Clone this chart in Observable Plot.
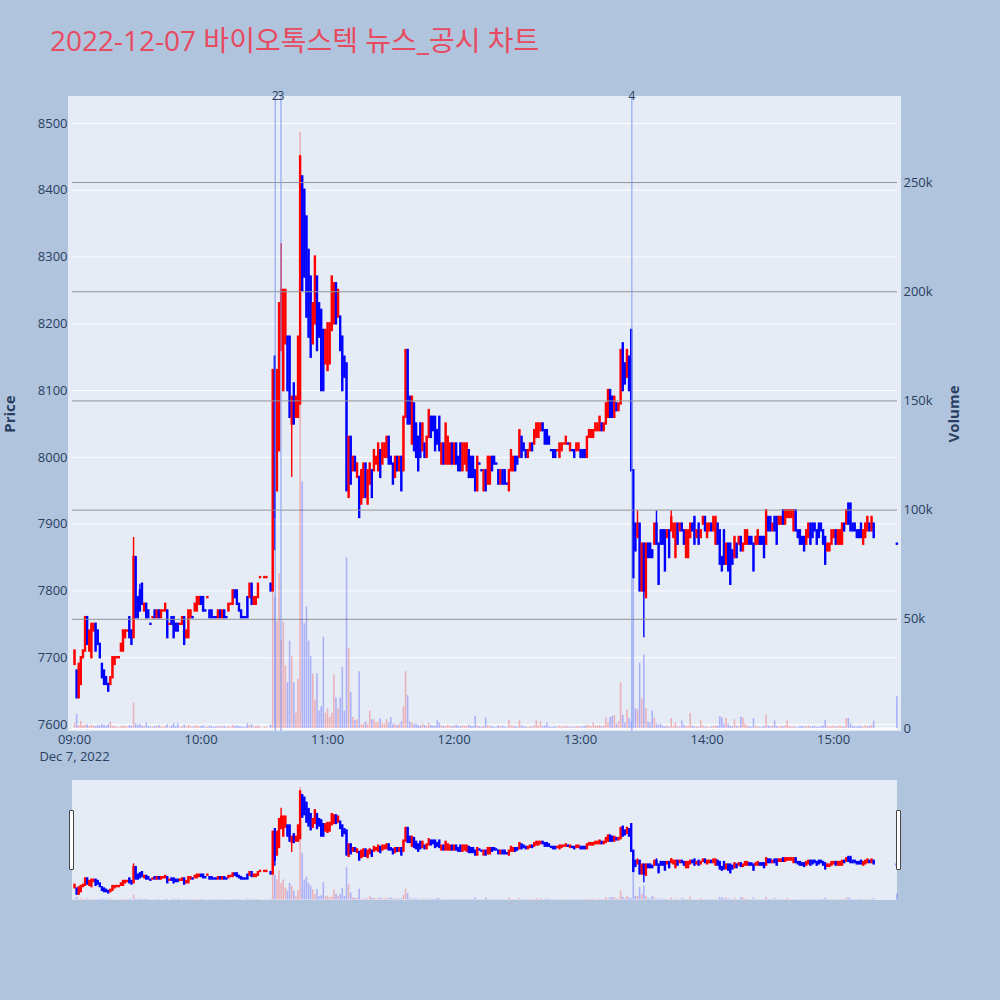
<!DOCTYPE html>
<html>
<head>
<meta charset="utf-8">
<script src="https://cdn.jsdelivr.net/npm/d3@7"></script>
<script src="https://cdn.jsdelivr.net/npm/@observablehq/plot@0.6"></script>
<style>
  html, body { margin: 0; padding: 0; background: #b0c4de; }
  #root { position: relative; width: 1000px; height: 1000px; background: #b0c4de; overflow: hidden; font-family: "Open Sans", "Noto Sans CJK KR", sans-serif; }
  .layer { position: absolute; left: 0; }
  .grab { position: absolute; top: 810px; width: 3px; height: 58px; background: #fff; border: 1px solid #444; border-radius: 1px; }
</style>
</head>
<body>
<div id="root">
  <svg class="layer" style="top:0" width="1000" height="90">
    <text x="50" y="51" font-family="'Open Sans','Noto Sans CJK KR',sans-serif" font-size="28" fill="#e84a5f">2022-12-07 바이오톡스텍 뉴스_공시 차트</text>
  </svg>
  <div style="position:absolute;left:68px;top:96px;width:833px;height:635px;background:#e5ecf6"></div>
  <div id="mainPrice" class="layer" style="top:0"></div>
  <div id="mainVol" class="layer" style="top:0"></div>
  <div style="position:absolute;left:72px;top:780px;width:825px;height:120px;background:#e5ecf6"></div>
  <div id="sliderPrice" class="layer" style="top:780px"></div>
  <div id="sliderVol" class="layer" style="top:780px"></div>
  <div class="grab" style="left:68.5px"></div>
  <div class="grab" style="left:895.5px"></div>
</div>
<script>
// ---------------- data ----------------
const tradeDate = [2022, 11, 7];   // Dec 7, 2022 (month is 0-based)
const sessionStartHour = 9;

// one candle per minute from 09:00 (index = minutes after 09:00), null = no trade
const opens = [
  7690,7680,7640,7660,7700,7710,7760,7710,7700,7740,
  7750,7740,7720,7690,7680,7670,7660,7660,7670,7690,
  7700,7700,7710,7710,7730,7740,7760,7740,7730,7850,
  7790,7800,7810,7770,7780,7770,7750,7760,7770,7760,
  7770,7760,7770,7770,7770,7750,7760,7760,7750,7750,
  7750,7750,7760,7730,7730,7760,7760,7770,7770,7780,
  7790,7790,7770,7790,7770,7770,7760,7760,7760,7770,
  7760,7770,7760,7770,7780,7780,7800,7800,7780,7770,
  7760,7760,7790,7790,7810,7780,7780,7790,7820,null,
  7820,7820,null,7810,7800,8150,7950,8010,8160,8100,
  8170,8180,8180,8050,8110,8060,8060,8080,8420,8400,
  8360,8310,8270,8170,8200,8270,8230,8220,8190,8140,
  8130,8140,8190,8200,8260,8210,8210,8180,8150,8140,
  7940,8030,7980,8000,7970,7970,7930,7940,7990,7930,
  7960,7980,7980,7990,7980,8010,7990,8000,8000,8030,
  8000,7990,7970,8000,7980,8000,7980,8060,8160,8090,
  8020,8080,8050,8030,8050,8010,8020,8000,8030,8060,
  8060,8060,8040,8060,7990,8020,7990,7990,7990,8020,
  7990,8020,8000,8020,7980,7990,7980,8010,8000,8000,
  7980,7950,7990,7980,7950,7980,7960,7960,8000,8000,
  7990,7980,7960,7980,7980,7960,7950,7980,7980,8000,
  8000,8000,8030,8020,8010,8000,8010,8020,8020,8030,
  8030,8040,8050,8040,8040,8030,8010,8010,8010,8010,
  8000,8010,8020,8020,8020,8010,8010,8010,8010,8010,
  8010,8010,8010,8000,8030,8030,8030,8040,8040,8040,
  8050,8040,8050,8060,8100,8090,8060,8080,8070,8080,
  8170,8140,8120,8150,8190,7980,7900,7880,7900,7800,
  7870,7790,7870,7870,7860,7870,7900,7870,7890,7890,
  7890,7880,7890,7890,7880,7850,7900,7890,7900,7890,
  7850,7850,7880,7900,7910,7880,7900,7880,7900,7910,
  7880,7890,7900,7890,7870,7900,7890,7850,7890,7840,
  7870,7870,7860,7850,7870,7870,7880,7860,7870,7870,
  7880,7880,7870,7870,7870,7880,7880,7880,7870,7910,
  7910,7890,7910,7910,7900,7900,7920,7900,7910,7910,
  7910,7890,7920,7890,7890,7880,7880,7870,7880,7900,
  7900,7900,7890,7900,7900,7890,7880,7860,7860,7870,
  7880,7890,7870,7870,7870,7900,7900,7930,7930,7900,
  7900,7890,7890,7900,7870,7880,7890,7900,7890,7900
];
const closes = [
  7710,7640,7690,7700,7710,7760,7720,7740,7750,7750,
  7710,7720,7700,7670,7660,7660,7650,7670,7700,7700,
  7700,7700,7720,7740,7740,7740,7730,7720,7850,7760,
  7760,7770,7780,7780,7760,7760,7750,7760,7760,7770,
  7760,7770,7770,7780,7730,7750,7750,7730,7740,7740,
  7750,7760,7720,7740,7770,7770,7760,7780,7790,7790,
  7780,7770,7770,7790,7760,7760,7760,7760,7770,7760,
  7770,7760,7760,7780,7780,7800,7790,7780,7770,7760,
  7760,7760,7760,7810,7780,7790,7790,7810,7820,null,
  7820,7820,null,7800,8130,7910,8130,8230,8250,8250,
  8250,8100,8060,8090,8050,8090,8180,8450,8250,8270,
  8210,8180,8150,8230,8300,8160,8180,8100,8100,8190,
  8200,8200,8270,8260,8200,8250,8160,8100,8120,7950,
  8030,7960,8000,7980,7990,7910,7980,7990,7940,7980,
  7990,7940,8010,8000,8020,7970,8020,8020,8030,7990,
  7990,7960,8000,7980,8000,7950,8060,8160,8050,8050,
  8090,8010,8000,7980,8000,8050,8000,8030,8070,8030,
  8040,8010,8020,8010,8020,7990,8050,8030,8020,7990,
  8020,7990,7980,7980,8020,8020,8020,7970,7970,7970,
  7950,8000,7990,7980,7980,7950,8000,8000,7980,7990,
  7990,7960,7980,7960,7960,7960,7980,8010,8000,7980,
  7990,8040,8000,8010,8000,8010,8020,8010,8040,8050,
  8050,8050,8040,8020,8020,8020,8010,8000,8000,8010,
  8020,8020,8020,8030,8020,8020,8010,8000,8020,8020,
  8000,8000,8000,8030,8040,8040,8040,8050,8050,8060,
  8040,8050,8080,8100,8060,8060,8090,8070,8080,8160,
  8100,8110,8160,8100,7980,7820,7860,7900,7800,7870,
  7800,7870,7850,7850,7850,7900,7870,7810,7870,7870,
  7830,7890,7850,7910,7900,7900,7870,7900,7890,7870,
  7890,7890,7900,7890,7870,7890,7870,7890,7910,7890,
  7900,7900,7890,7910,7910,7870,7840,7830,7840,7870,
  7830,7810,7840,7880,7850,7880,7860,7870,7890,7890,
  7870,7870,7830,7880,7890,7870,7870,7850,7920,7890,
  7890,7900,7890,7870,7910,7910,7900,7920,7920,7920,
  7920,7920,7890,7880,7870,7870,7860,7890,7900,7870,
  7880,7890,7870,7880,7890,7870,7840,7870,7870,7890,
  7890,7870,7890,7890,7900,7890,7920,7900,7890,7890,
  7890,7880,7880,7880,7890,7900,7910,7890,7910,7880
];
// traded volume per minute, thousands of shares
const volumesK = [
  2.5,6.4,1.5,3.2,1.2,1.5,1.8,1.0,1.5,1.2,
  0.8,1.5,1.2,2.0,1.5,1.0,1.8,2.9,0.8,1.0,
  0.5,0.4,0.8,1.2,0.9,0.6,1.4,1.0,11.6,2.2,
  1.5,2.0,1.2,0.8,2.5,1.0,0.6,0.5,1.0,0.8,
  1.5,0.6,0.5,0.9,1.8,0.4,1.2,2.2,0.8,2.2,
  0.5,0.7,1.6,0.6,1.4,0.9,0.5,1.0,1.2,0.8,
  0.9,1.3,0.4,0.6,1.0,0.8,0.5,0.7,0.9,0.6,
  0.8,1.0,0.4,0.9,0.5,1.5,1.0,1.2,0.8,0.7,
  0.6,0.5,2.2,1.4,1.8,0.6,0.9,1.2,0.6,null,
  0.5,0.6,null,1.5,130,60,49,71,40,48.7,
  28.8,21,40,33,21,7,22.7,273,113,48,
  55.7,40,33,25,13,25,8,10,41.8,7,
  9,5,7,24.4,14,9,14,28,8,78,
  36.6,16.5,5,3.5,4,26,1.8,2,3,2,
  8,4,4,2.5,3,4.5,2.2,2,4,2.5,
  5,2,2,1.5,2,3,10,26,15,3,
  2.5,2,2,1.5,1.2,2,1.5,1.0,2.5,1.5,
  1.2,1.0,3.5,2.5,1.2,1.0,0.8,1.5,1.0,0.8,
  1.2,1.5,1.0,0.8,1.2,1.0,0.9,1.5,1.0,0.8,
  5.5,1.2,0.8,0.6,1.0,4.7,1.2,1.0,0.8,0.6,
  0.5,1.2,0.8,1.0,0.6,0.4,3.8,1.2,1.0,0.8,
  0.6,3.5,1.2,0.8,0.6,0.5,0.8,0.6,1.2,3.5,
  1.0,3.0,0.8,1.2,2.5,0.8,0.5,0.6,0.8,0.5,
  1.2,0.8,0.6,1.0,0.6,0.8,0.5,0.6,1.0,0.8,
  0.6,0.8,1.0,1.5,1.2,0.8,2.5,1.2,1.0,1.5,
  0.8,1.2,5.0,2.5,5.0,5.5,6.0,2.0,3.0,21,
  6.0,2.5,8.5,4.6,3.0,108,9,8.5,30,13.5,
  33.6,9,3.0,2.5,8,4.6,2.0,1.5,2.0,1.0,
  0.8,1.2,0.6,4.6,0.8,2.5,0.6,0.8,3.5,1.5,
  0.8,1.0,6.9,1.0,0.6,0.8,0.5,3.5,1.0,0.6,
  0.8,0.5,0.6,0.8,1.2,1.0,5.3,4.8,2.0,4.6,
  2.0,1.0,0.8,4.0,1.0,0.8,5.3,4.8,2.0,1.0,
  0.8,0.6,4.6,1.0,0.8,0.6,0.5,1.0,6.0,1.2,
  0.8,1.0,3.5,0.8,0.6,1.0,0.8,1.2,3.5,1.0,
  0.6,0.8,0.5,0.4,0.8,1.0,0.6,0.8,1.2,0.6,
  0.8,1.0,0.6,0.5,0.8,1.2,3.8,1.0,0.6,0.8,
  1.0,0.6,0.8,1.2,0.8,0.6,4.6,4.6,2.0,1.0,
  0.8,0.6,1.0,0.8,0.6,1.2,0.8,1.0,1.5,3.4
];
// wick extremes beyond the candle body: [minute, price]
const wickHighs = [[28,7880],[31,7810],[98,8320],[260,8170],[267,7920],[276,7920],[283,7920]];
const wickLows  = [[95,7860],[103,7970],[270,7730]];
// closing single-price auction at 15:30
const closingAuction = {minute: 390, price: 7870, volumeK: 14.5};
// news / disclosure markers
const newsMarks = [
  {time: "10:35:10", label: "2"},
  {time: "10:37:55", label: "3"},
  {time: "13:24:20", label: "4"}
];
const priceTicks = [7600,7700,7800,7900,8000,8100,8200,8300,8400,8500];
const volumeTicks = [0,50000,100000,150000,200000,250000];
const timeTicks = ["09:00","10:00","11:00","12:00","13:00","14:00","15:00"];
const dateLabel = "Dec 7, 2022";

// ---------------- build ----------------
const minuteDate = m => new Date(Date.UTC(tradeDate[0], tradeDate[1], tradeDate[2], sessionStartHour, 0) + m * 60000);
const hmsDate = s => { const [h, mi, se] = s.split(":").map(Number); return new Date(Date.UTC(tradeDate[0], tradeDate[1], tradeDate[2], h, mi, se || 0)); };

const hiMap = new Map(wickHighs), loMap = new Map(wickLows);
const rows = [];
opens.forEach((o, m) => { if (o != null) rows.push({m, o, c: closes[m], v: volumesK[m]}); });
rows.push({m: closingAuction.minute, o: closingAuction.price, c: closingAuction.price, v: closingAuction.volumeK});

let inc = true, cPrev = null;
const candles = rows.map(r => {
  if (r.c === r.o) { if (cPrev !== null && r.c !== cPrev) inc = r.c > cPrev; }
  else inc = r.c > r.o;
  cPrev = r.c;
  return {
    time: minuteDate(r.m), open: r.o, close: r.c,
    high: Math.max(r.o, r.c, hiMap.get(r.m) ?? -Infinity),
    low: Math.min(r.o, r.c, loMap.get(r.m) ?? Infinity),
    volume: r.v * 1000,
    color: inc ? "#ff0000" : "#0000ff"
  };
});
const news = newsMarks.map(d => ({t: hmsDate(d.time), label: d.label}));

const xDomain = [minuteDate(-0.95), minuteDate(390.3)];
const priceDomain = [7589.5, 8540.4];
const volDomain = [-1370, 289400];
const ink = "#2a3f5f";
const baseStyle = {background: "transparent", fontFamily: "'Open Sans', sans-serif", fontSize: "13px", color: ink, overflow: "visible"};
const fmtTime = d => String(d.getUTCHours()).padStart(2, "0") + ":" + String(d.getUTCMinutes()).padStart(2, "0");

const candleMarks = (wickW, bodyW) => [
  Plot.ruleX(candles, {x: "time", y1: "low", y2: "high", stroke: "color", strokeWidth: wickW}),
  Plot.ruleX(candles, {x: "time", y1: "open", y2: "close", stroke: "color", strokeWidth: bodyW, strokeLinecap: "square"})
];
const volMark = () => Plot.ruleX(candles, {x: "time", y1: 0, y2: "volume", stroke: "color", strokeOpacity: 0.25, strokeWidth: 1.6});

const mainPrice = Plot.plot({
  width: 1000, height: 770,
  marginLeft: 72, marginRight: 103, marginTop: 96, marginBottom: 39,
  style: baseStyle,
  x: {type: "utc", domain: xDomain},
  y: {domain: priceDomain},
  color: {type: "identity"},
  marks: [
    Plot.gridY(priceTicks, {stroke: "#ffffff", strokeOpacity: 1, strokeWidth: 1}),
    Plot.axisY(priceTicks, {anchor: "left", tickSize: 0, tickPadding: 5, label: null, tickFormat: d => String(d), fontSize: 13}),
    Plot.axisX(timeTicks.map(hmsDate), {tickSize: 0, tickPadding: 3, label: null, fontSize: 13, tickFormat: fmtTime}),
    Plot.text([hmsDate(timeTicks[0])], {x: d => d, text: () => dateLabel, frameAnchor: "bottom", lineAnchor: "top", dy: 20, fontSize: 13, fill: ink}),
    ...candleMarks(1.4, 2.4),
    Plot.text(["Price"], {text: d => d, frameAnchor: "left", textAnchor: "middle", dx: -62, rotate: -90, fontSize: 15, fontWeight: "bold", fill: ink})
  ]
});
document.getElementById("mainPrice").append(mainPrice);

const mainVol = Plot.plot({
  width: 1000, height: 770,
  marginLeft: 72, marginRight: 103, marginTop: 96, marginBottom: 39,
  style: baseStyle,
  x: {type: "utc", domain: xDomain, axis: null},
  y: {domain: volDomain},
  color: {type: "identity"},
  marks: [
    Plot.ruleY(volumeTicks.slice(1), {stroke: "#939393", strokeWidth: 1}),
    Plot.ruleY([0], {stroke: "#ffffff", strokeWidth: 2}),
    Plot.axisY(volumeTicks, {anchor: "right", tickSize: 0, tickPadding: 6, label: null, fontSize: 13,
      tickFormat: d => d === 0 ? "0" : (d / 1000) + "k"}),
    volMark(),
    Plot.ruleX(news, {x: "t", stroke: "#7f97f0", strokeWidth: 1}),
    Plot.text(news, {x: "t", text: "label", frameAnchor: "top", lineAnchor: "middle", fontSize: 12, fill: ink}),
    Plot.text(["Volume"], {text: d => d, frameAnchor: "right", textAnchor: "middle", dx: 57, rotate: -90, fontSize: 15, fontWeight: "bold", fill: ink})
  ]
});
document.getElementById("mainVol").append(mainVol);

const sliderPrice = Plot.plot({
  width: 1000, height: 120,
  marginLeft: 72, marginRight: 103, marginTop: 0, marginBottom: 0,
  style: baseStyle,
  x: {type: "utc", domain: xDomain, axis: null},
  y: {domain: priceDomain, axis: null},
  color: {type: "identity"},
  marks: [...candleMarks(1.4, 2.4)]
});
document.getElementById("sliderPrice").append(sliderPrice);

const sliderVol = Plot.plot({
  width: 1000, height: 120,
  marginLeft: 72, marginRight: 103, marginTop: 0, marginBottom: 0,
  style: baseStyle,
  x: {type: "utc", domain: xDomain, axis: null},
  y: {domain: volDomain, axis: null},
  color: {type: "identity"},
  marks: [volMark()]
});
document.getElementById("sliderVol").append(sliderVol);
</script>
</body>
</html>
